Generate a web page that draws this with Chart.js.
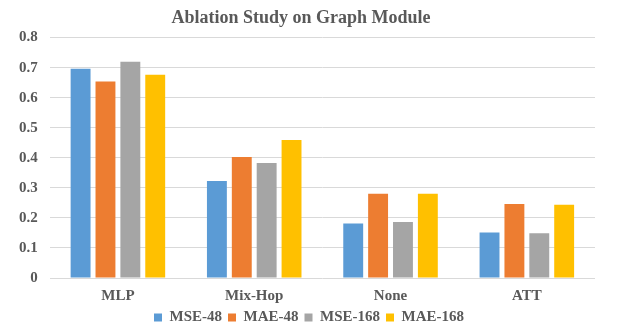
<!DOCTYPE html>
<html>
<head>
<meta charset="utf-8">
<script src="https://cdn.jsdelivr.net/npm/chart.js@4"></script>
<style>
  html, body { margin: 0; padding: 0; background: #fff; }
  #wrap { width: 619px; height: 332px; }
</style>
</head>
<body>
<div id="wrap"><canvas id="myChart"></canvas></div>
<script>
var categories = ["MLP", "Mix-Hop", "None", "ATT"];
var mse48 = [0.696, 0.323, 0.181, 0.151];
var mae48 = [0.654, 0.403, 0.280, 0.246];
var mse168 = [0.720, 0.383, 0.186, 0.149];
var mae168 = [0.676, 0.459, 0.280, 0.244];
var yTicks = [0, 0.1, 0.2, 0.3, 0.4, 0.5, 0.6, 0.7, 0.8];

Chart.defaults.font.family = "'Liberation Serif', 'Times New Roman', serif";
Chart.defaults.font.weight = "bold";
Chart.defaults.color = "#595959";

// legend is centred on the whole page, not on the padded chart box
var legendShift = {
  id: "legendShift",
  afterLayout: function (chart) {
    chart.legend.left += 8;
    chart.legend.right += 8;
  },
};

var ctx = document.getElementById("myChart").getContext("2d");
var myChart = new Chart(ctx, {
  type: "bar",
  data: {
    labels: categories,
    datasets: [
      { label: "MSE-48", data: mse48, backgroundColor: "#5B9BD5", borderWidth: 0 },
      { label: "MAE-48", data: mae48, backgroundColor: "#ED7D31", borderWidth: 0 },
      { label: "MSE-168", data: mse168, backgroundColor: "#A5A5A5", borderWidth: 0 },
      { label: "MAE-168", data: mae168, backgroundColor: "#FFC000", borderWidth: 0 },
    ],
  },
  options: {
    responsive: true,
    maintainAspectRatio: false,
    animation: false,
    barPercentage: 0.8,
    categoryPercentage: 0.73,
    layout: { padding: { left: 7, right: 24, top: 4, bottom: 0 } },
    plugins: {
      title: {
        display: true,
        text: "Ablation Study on Graph Module",
        font: { size: 18, weight: "bold" },
        color: "#595959",
        padding: { top: 4, bottom: 8 },
      },
      legend: {
        display: true,
        position: "bottom",
        maxHeight: 28,
        labels: {
          boxWidth: 8,
          boxHeight: 8,
          padding: 6,
          font: { size: 15, weight: "bold" },
        },
      },
      tooltip: { enabled: false },
    },
    scales: {
      x: {
        grid: { display: false, drawTicks: false },
        border: { display: false },
        ticks: { font: { size: 15, weight: "bold" }, padding: 9 },
        afterFit: function (scale) {
          scale.height = scale.height - 10;
        },
      },
      y: {
        min: 0,
        max: 0.8,
        afterBuildTicks: function (axis) {
          axis.ticks = yTicks.map(function (v) { return { value: v }; });
        },
        grid: { color: "#d9d9d9", lineWidth: 1, drawTicks: false },
        border: { display: false },
        ticks: {
          font: { size: 15, weight: "bold" },
          padding: 12,
          callback: function (v) { return v === 0 ? "0" : v.toFixed(1); },
        },
      },
    },
  },
  plugins: [legendShift],
});
</script>
</body>
</html>
